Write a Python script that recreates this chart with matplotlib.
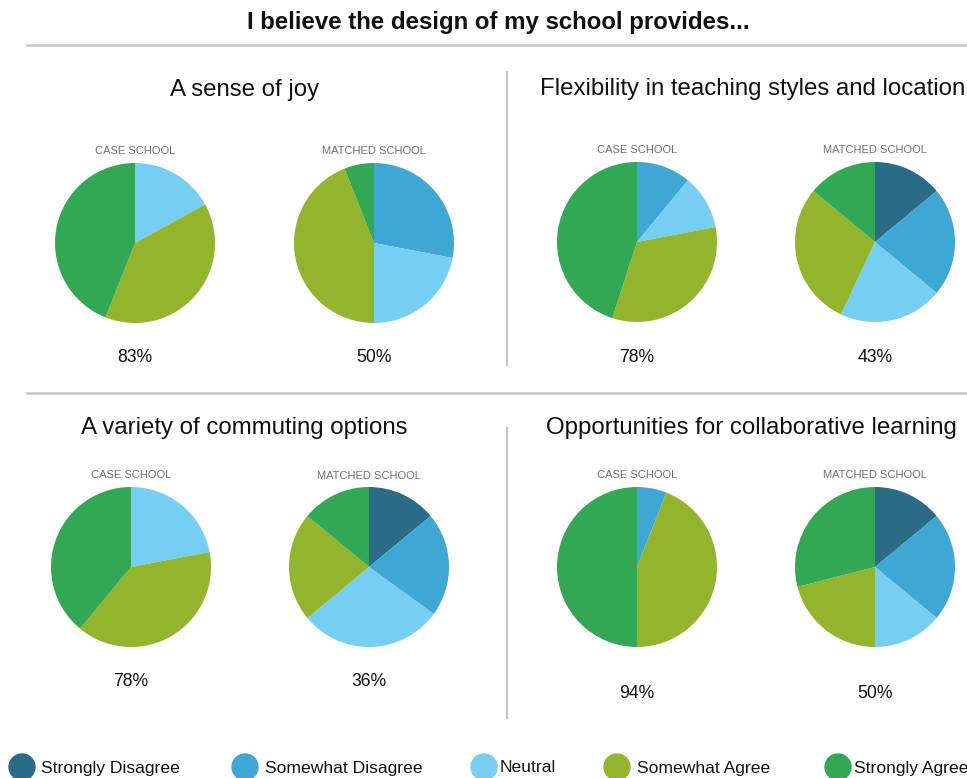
import matplotlib
matplotlib.use("Agg")
import matplotlib.pyplot as plt
from matplotlib.lines import Line2D
from matplotlib.patches import Ellipse

plt.rcParams['font.family'] = ['Liberation Sans', 'DejaVu Sans']

W, H = 967, 778
categories = ["Strongly Disagree", "Somewhat Disagree", "Neutral", "Somewhat Agree", "Strongly Agree"]
colors = ["#2a6c87", "#3fa7d4", "#76cff3", "#93b52d", "#33a854"]

panel_titles = ["A sense of joy", "Flexibility in teaching styles and location",
                "A variety of commuting options", "Opportunities for collaborative learning"]

joy_case = [0, 0, 17, 39, 44]
joy_matched = [0, 28, 22, 44, 6]
flex_case = [0, 11, 11, 33, 45]
flex_matched = [14, 22, 21, 29, 14]
commute_case = [0, 0, 22, 39, 39]
commute_matched = [14, 21, 29, 22, 14]
collab_case = [0, 6, 0, 44, 50]
collab_matched = [14, 22, 14, 21, 29]

agree_labels = ["83%", "50%", "78%", "43%", "78%", "36%", "94%", "50%"]

fig = plt.figure(figsize=(W / 100, H / 100), dpi=100)
fig.patch.set_facecolor("white")

def fx(x):
    return x / W

def fy(y):
    return 1 - y / H

def pie_at(cx, cy, r, vals):
    ax = fig.add_axes([fx(cx - r), fy(cy + r), 2 * r / W, 2 * r / H])
    ax.pie(vals, colors=colors, startangle=90, counterclock=False, radius=1,
           wedgeprops=dict(linewidth=0))
    ax.set_xlim(-1, 1)
    ax.set_ylim(-1, 1)
    ax.set_aspect("auto")
    ax.axis("off")

def line(x0, y0, x1, y1, lw=1.5):
    fig.add_artist(Line2D([fx(x0), fx(x1)], [fy(y0), fy(y1)], color="#c4c4c4",
                          linewidth=lw, transform=fig.transFigure))

# Title
fig.text(fx(498), fy(22), "I believe the design of my school provides...", ha="center", va="center",
         fontsize=17.3, fontweight="bold", color="#111111")
line(27, 45, 967, 45, 1.8)
line(27, 393, 967, 393, 1.8)
line(507, 72, 507, 365, 1.5)
line(507, 428, 507, 718, 1.5)

# Panel titles
tfs = 17.3
fig.text(fx(245), fy(90), panel_titles[0], ha="center", va="center", fontsize=tfs, color="#111111")
fig.text(fx(540), fy(89), panel_titles[1], ha="left", va="center", fontsize=tfs, color="#111111")
fig.text(fx(244), fy(428), panel_titles[2], ha="center", va="center", fontsize=tfs, color="#111111")
fig.text(fx(751), fy(428), panel_titles[3], ha="center", va="center", fontsize=tfs, color="#111111")

pies = [
    (135, 243, joy_case, "CASE SCHOOL", 151, 357),
    (374, 243, joy_matched, "MATCHED SCHOOL", 151, 357),
    (637, 242, flex_case, "CASE SCHOOL", 150, 357),
    (875, 242, flex_matched, "MATCHED SCHOOL", 150, 357),
    (131, 567, commute_case, "CASE SCHOOL", 475, 681),
    (369, 567, commute_matched, "MATCHED SCHOOL", 476, 681),
    (637, 567, collab_case, "CASE SCHOOL", 475, 693),
    (875, 567, collab_matched, "MATCHED SCHOOL", 475, 693),
]

for i, (cx, cy, vals, lab, ly, py) in enumerate(pies):
    pie_at(cx, cy, 80, vals)
    fig.text(fx(cx), fy(ly), lab, ha="center", va="center", fontsize=8, color="#707070")
    fig.text(fx(cx), fy(py), agree_labels[i], ha="center", va="center", fontsize=12.7, color="#111111")

# Legend
leg_circle_x = [22, 245, 484, 617, 838]
leg_text_x = [41, 265, 500, 637, 854]
ly = 767
for cat, col, cxp, tx in zip(categories, colors, leg_circle_x, leg_text_x):
    fig.add_artist(Ellipse((fx(cxp), fy(ly)), 26 / W, 26 / H, color=col,
                           transform=fig.transFigure))
    fig.text(fx(tx), fy(ly + 1), cat, ha="left", va="center", fontsize=12.6, color="#111111")

fig.savefig("out.png", dpi=100, facecolor="white")
